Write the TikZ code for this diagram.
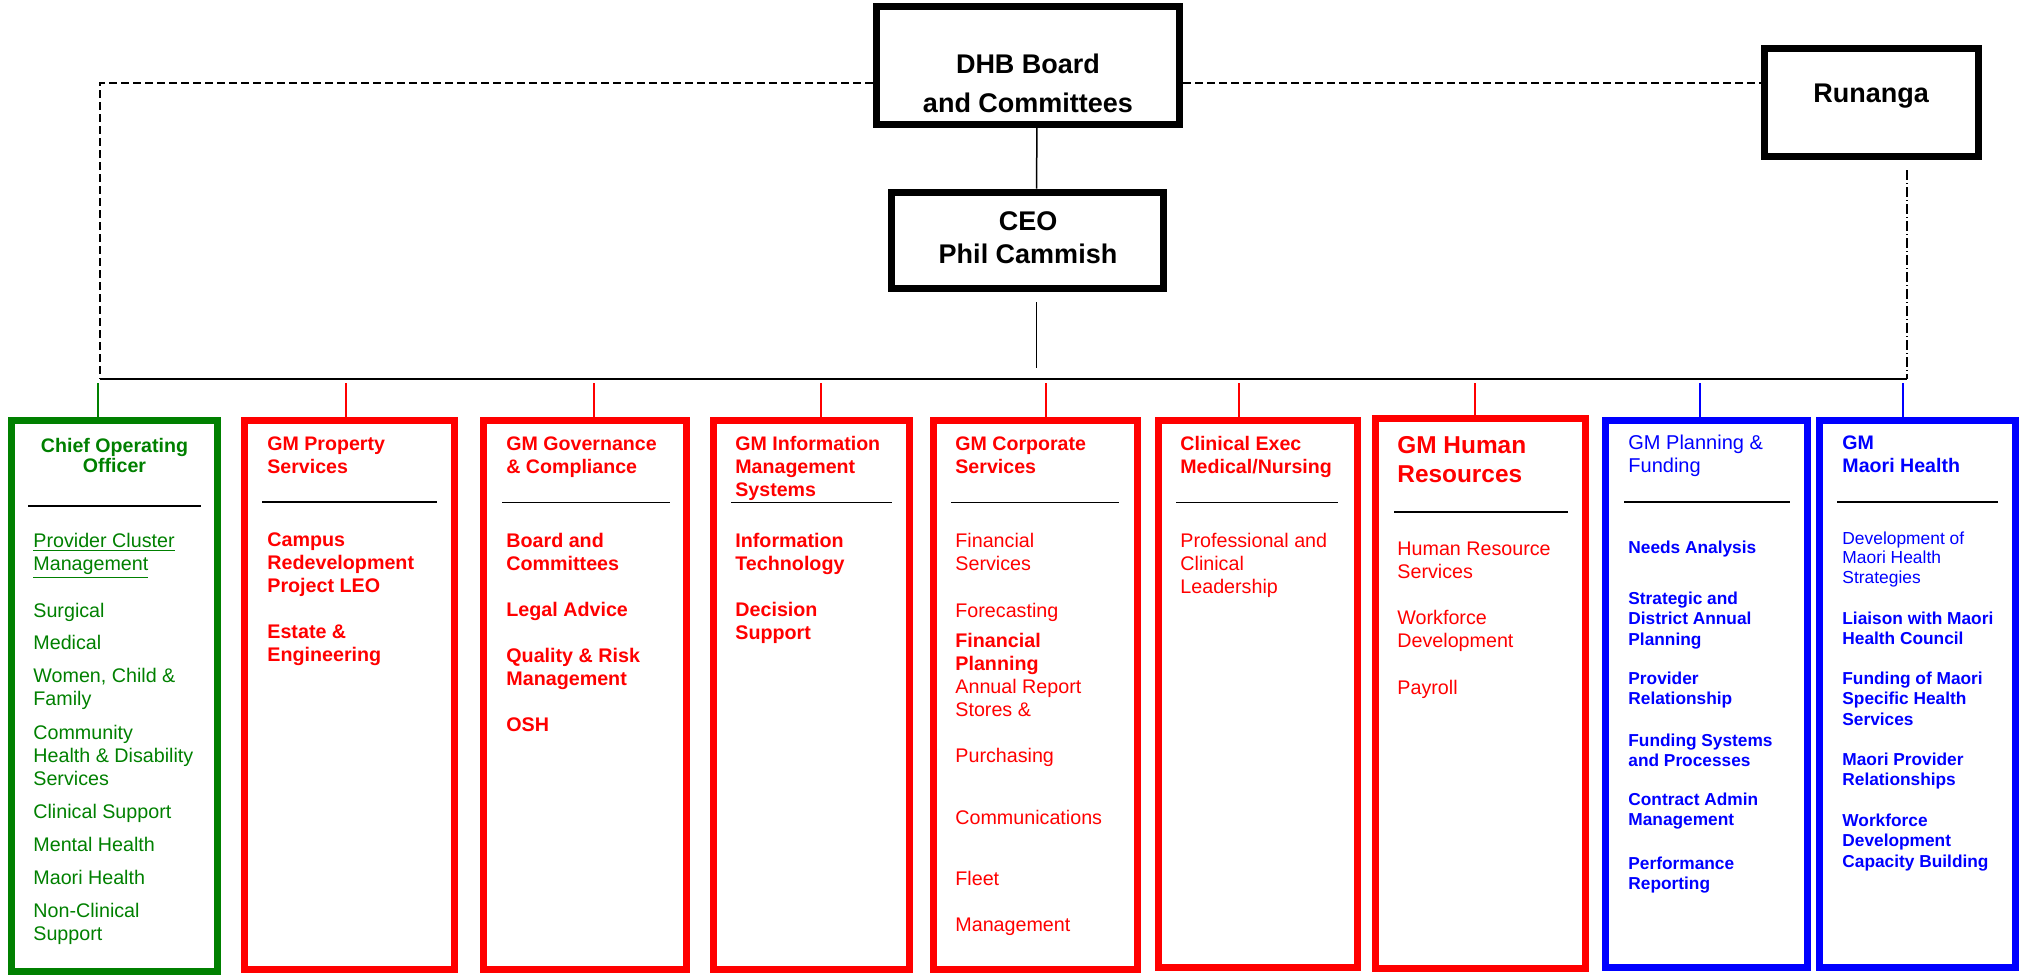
\documentclass[tikz,border=0pt]{standalone}
\usepackage{fontspec}
\setmainfont{Liberation Sans}
\usetikzlibrary{calc}
\definecolor{CooClr}{rgb}{0,0.5,0}
\definecolor{GmClr}{rgb}{1,0,0}
\definecolor{PfClr}{rgb}{0,0,1}
\newcommand\TopSz{\fontsize{13.5pt}{16.5pt}\selectfont\bfseries}
\newcommand\HeadSz{\fontsize{9.8pt}{11.5pt}\selectfont}
\newcommand\ItemSz{\fontsize{9.85pt}{11.5pt}\selectfont}
\newcommand\SmallSz{\fontsize{8.65pt}{10.25pt}\selectfont}
% lines hanging from the first baseline
\newcommand\Stk[1]{\vtop{\halign{##\hfil\cr#1\crcr}}}
\newcommand\CStk[1]{\vtop{\halign{\hfil##\hfil\cr#1\crcr}}}

\begin{document}
\begin{tikzpicture}[x=0.5pt,y=-0.5pt,
  topbox/.style={draw=black,line width=3.8pt,inner sep=0pt},
  colbox/.style={draw=#1,line width=3.5pt,inner sep=0pt,minimum height=274.5pt},
  txt/.style={inner sep=0pt,anchor=base west},
  link/.style={line width=0.75pt},
  drop/.style={draw=#1,line width=0.6pt},
  rulethick/.style={line width=1.25pt},
  rulethin/.style={line width=0.5pt}]
\useasboundingbox (0,0) rectangle (2028,976);

% board, ceo, runanga
\node[topbox,minimum width=151.5pt,minimum height=59pt] (dhb) at (1028,65.5) {};
\node[topbox,minimum width=136pt,minimum height=48pt] (ceo) at (1027.5,240.5) {};
\node[topbox,minimum width=107pt,minimum height=54pt] (run) at (1871.5,102.5) {};
\node[txt,anchor=base,font=\TopSz] (dhb-t) at (1028,73) {\CStk{DHB Board\cr\noalign{\vskip3pt}and Committees}};
\node[txt,anchor=base,font=\TopSz] (ceo-t) at (1028,230) {\CStk{CEO\cr Phil Cammish}};
\node[txt,anchor=base,font=\TopSz] (run-t) at (1871,102) {Runanga};

\coordinate (tl) at (100,83);
\coordinate (busL) at (100,379);
\coordinate (busR) at (1907,379);
\coordinate (rr) at (1907,170);
\draw[link,dash pattern=on 4pt off 2pt] (dhb.west |- tl) -- (tl) -- (busL);
\draw[link,dash pattern=on 4pt off 2pt] (dhb.east |- tl) -- (run.west |- tl);
\draw[link,dash pattern=on 5pt off 1.5pt on 0.5pt off 1.5pt] (rr) -- (busR);
\draw[line width=1pt] (busL) -- (busR);
\draw[link] ($(dhb.south)+(9,-6)$) -- ($(ceo.north)+(9,0)$);
\draw[link] ($(ceo.south)+(9,10)$) -- ($(ceo.south |- busL)+(9,-11)$);

% columns
\node[colbox=CooClr,minimum width=103pt,minimum height=275.5pt] (coo) at (114.5,696) {};
\node[colbox=GmClr,minimum width=105pt] (prop) at (349.5,695) {};
\node[colbox=GmClr,minimum width=101.5pt] (gov) at (585,695) {};
\node[colbox=GmClr,minimum width=98pt] (ims) at (811.5,695) {};
\node[colbox=GmClr,minimum width=102pt] (corp) at (1035.5,695) {};
\node[colbox=GmClr,minimum width=99.5pt,minimum height=273.5pt] (clin) at (1258,694) {};
\node[colbox=GmClr,minimum width=105pt,minimum height=275pt] (hr) at (1480.5,693.5) {};
\node[colbox=PfClr,minimum width=101pt,minimum height=273.5pt] (plan) at (1706.5,694) {};
\node[colbox=PfClr,minimum width=98pt,minimum height=273.5pt] (maori) at (1917.5,694) {};

\foreach \x/\b/\c in {98/coo/CooClr, 346/prop/GmClr, 594/gov/GmClr, 821/ims/GmClr,
  1046/corp/GmClr, 1239/clin/GmClr, 1475/hr/GmClr, 1700/plan/PfClr, 1903/maori/PfClr}{
  \coordinate (d\b) at (\x,383);
  \draw[drop=\c] (d\b) -- (d\b |- \b.north);
}

% chief operating officer
\node[txt,anchor=base,font={\fontsize{9.8pt}{10pt}\selectfont\bfseries},text=CooClr] (coo-h) at (114.5,452) {\CStk{Chief Operating\cr Officer}};
\draw[rulethick] (28,506) -- (201,506);
\foreach \y/\t [count=\i] in {547.5/{\underline{Provider Cluster}\cr\underline{Management}}, 617/{Surgical},
  649.5/{Medical}, 682.5/{Women, Child \&\cr Family}, 739.5/{Community\cr Health \& Disability\cr Services},
  818.5/{Clinical Support}, 851.5/{Mental Health}, 884.5/{Maori Health}, 917.5/{Non-Clinical\cr Support}}
  \node[txt,font=\ItemSz,text=CooClr] (coo-\i) at (33,\y) {\Stk{\t}};

% property
\node[txt,font={\HeadSz\bfseries},text=GmClr] (prop-h) at (267,450.5) {\Stk{GM Property\cr Services}};
\draw[rulethick] (262,502) -- (437,502);
\foreach \y/\t [count=\i] in {546.5/{Campus\cr Redevelopment\cr Project LEO}, 638.5/{Estate \&\cr Engineering}}
  \node[txt,font={\ItemSz\bfseries},text=GmClr] (prop-\i) at (267,\y) {\Stk{\t}};

% governance
\node[txt,font={\HeadSz\bfseries},text=GmClr] (gov-h) at (506,450.5) {\Stk{GM Governance\cr\& Compliance}};
\draw[rulethin] (502,502) -- (670,502);
\foreach \y/\t [count=\i] in {547.5/{Board and\cr Committees}, 616.5/{Legal Advice},
  662.5/{Quality \& Risk\cr Management}, 731.5/{OSH}}
  \node[txt,font={\ItemSz\bfseries},text=GmClr] (gov-\i) at (506,\y) {\Stk{\t}};

% information management
\node[txt,font={\HeadSz\bfseries},text=GmClr] (ims-h) at (735,450.5) {\Stk{GM Information\cr Management\cr Systems}};
\draw[rulethin] (731,502) -- (892,502);
\foreach \y/\t [count=\i] in {547.5/{Information\cr Technology}, 616.5/{Decision\cr Support}}
  \node[txt,font={\ItemSz\bfseries},text=GmClr] (ims-\i) at (735,\y) {\Stk{\t}};

% corporate
\node[txt,font={\HeadSz\bfseries},text=GmClr] (corp-h) at (955,450.5) {\Stk{GM Corporate\cr Services}};
\draw[rulethin] (951,502) -- (1119,502);
\foreach \y/\t [count=\i] in {547.5/{Financial\cr Services}, 617.5/{Forecasting},
  647.5/{\textbf{Financial}\cr\textbf{Planning}}, 693.5/{Annual Report\cr Stores \&}, 762.5/{Purchasing},
  824.5/{Communications}, 885.5/{Fleet}, 931.5/{Management}}
  \node[txt,font=\ItemSz,text=GmClr] (corp-\i) at (955,\y) {\Stk{\t}};

% clinical
\node[txt,font={\HeadSz\bfseries},text=GmClr] (clin-h) at (1180,450.5) {\Stk{Clinical Exec\cr Medical/Nursing}};
\draw[rulethin] (1176,502) -- (1338,502);
\node[txt,font=\ItemSz,text=GmClr] (clin-1) at (1180,547.5) {\Stk{Professional and\cr Clinical\cr Leadership}};

% human resources
\node[txt,font={\fontsize{12.2pt}{14.5pt}\selectfont\bfseries},text=GmClr] (hr-h) at (1397,453) {\Stk{GM Human\cr Resources}};
\draw[rulethick] (1394,512) -- (1568,512);
\foreach \y/\t [count=\i] in {555.5/{Human Resource\cr Services}, 624.5/{Workforce\cr Development}, 694.5/{Payroll}}
  \node[txt,font=\ItemSz,text=GmClr] (hr-\i) at (1397,\y) {\Stk{\t}};

% planning and funding
\node[txt,font={\fontsize{10pt}{11.5pt}\selectfont},text=PfClr] (plan-h) at (1628,449.5) {\Stk{GM Planning \&\cr Funding}};
\draw[rulethick] (1624,502) -- (1790,502);
\foreach \y/\t [count=\i] in {553/{Needs Analysis}, 604/{Strategic and\cr District Annual\cr Planning},
  684/{Provider\cr Relationship}, 746/{Funding Systems\cr and Processes}, 805/{Contract Admin\cr Management},
  869/{Performance\cr Reporting}}
  \node[txt,font={\SmallSz\bfseries},text=PfClr] (plan-\i) at (1628,\y) {\Stk{\t}};

% maori health
\node[txt,font={\HeadSz\bfseries},text=PfClr] (maori-h) at (1842,449.5) {\Stk{GM\cr Maori Health}};
\draw[rulethick] (1837,502) -- (1998,502);
\node[txt,font={\fontsize{8.7pt}{9.75pt}\selectfont},text=PfClr] (maori-0) at (1842,544) {\Stk{Development of\cr Maori Health\cr Strategies}};
\foreach \y/\t [count=\i] in {624/{Liaison with Maori\cr Health Council}, 684/{Funding of Maori\cr Specific Health\cr Services},
  765/{Maori Provider\cr Relationships}, 826/{Workforce\cr Development\cr Capacity Building}}
  \node[txt,font={\SmallSz\bfseries},text=PfClr] (maori-\i) at (1842,\y) {\Stk{\t}};

\end{tikzpicture}
\end{document}
